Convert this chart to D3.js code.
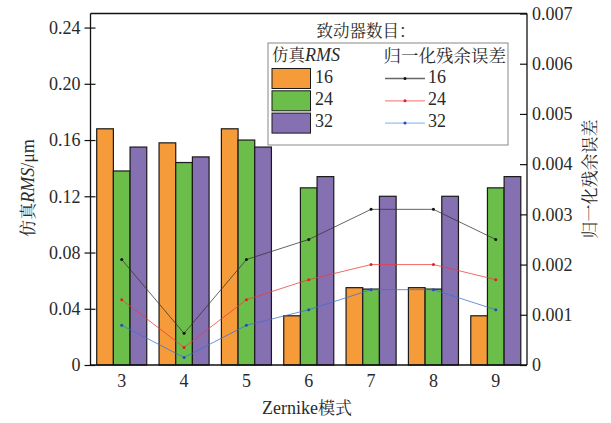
<!DOCTYPE html>
<html>
<head>
<meta charset="utf-8">
<script src="https://cdn.jsdelivr.net/npm/d3@7"></script>
<style>
  html, body { margin: 0; padding: 0; background: #fff; }
  svg { display: block; }
</style>
</head>
<body>
<svg id="chart" width="611" height="423"></svg>
<script>
// Zernike modes on the x axis
const modes = ["3", "4", "5", "6", "7", "8", "9"];
// Actuator counts (one bar / one line per count)
const actuators = ["16", "24", "32"];

// Simulated RMS (µm), left axis
const rms16 = [0.168, 0.158, 0.168, 0.035, 0.055, 0.055, 0.035];
const rms24 = [0.138, 0.144, 0.160, 0.126, 0.054, 0.054, 0.126];
const rms32 = [0.155, 0.148, 0.155, 0.134, 0.120, 0.120, 0.134];

// Normalised residual error, right axis
const res16 = [0.0021, 0.00063, 0.0021, 0.0025, 0.0031, 0.0031, 0.0025];
const res24 = [0.0013, 0.00035, 0.0013, 0.0017, 0.0020, 0.0020, 0.0017];
const res32 = [0.00079, 0.00015, 0.00079, 0.0011, 0.0015, 0.0015, 0.0011];

const leftTicks = [0, 0.04, 0.08, 0.12, 0.16, 0.20, 0.24];
const rightTicks = [0, 0.001, 0.002, 0.003, 0.004, 0.005, 0.006, 0.007];

const barColors = ["#F59B3A", "#6CBE4B", "#8570B1"];
const lineColors = ["#333333", "#EE3B3B", "#3F6FD6"];
const legendLineColors = ["#666666", "#F48C8C", "#8EC4F0"];
const dotColors = ["#111111", "#E02020", "#1F4FB0"];

const SERIF_FONT = "Liberation Serif";
const CJK_FONT = "Noto Serif CJK SC";
const TEXT_COLOR = "#2a2a2a";

const rmsSeries = [rms16, rms24, rms32];
const resSeries = [res16, res24, res32];

const L = 90.5, R = 527, T = 13.5, B = 365;
const svg = d3.select("#chart");

const x = d3.scaleBand().domain(modes).range([L, R]).paddingInner(12.3 / 62.3).paddingOuter(6.2 / 62.3);
const xs = d3.scaleBand().domain(actuators).range([0, x.bandwidth()]);
const yL = d3.scaleLinear().domain([0, 0.25]).range([B, T]);
const yR = d3.scaleLinear().domain([0, 0.007]).range([B, T]);

const setSerif = (sel, size) => sel.style("font-family", `'${SERIF_FONT}'`).style("font-size", size + "px");
const setCjk = (sel, size) => sel.style("font-family", `'${CJK_FONT}'`).style("font-size", size + "px");

// Bars
modes.forEach((m, i) => {
  actuators.forEach((a, j) => {
    const v = rmsSeries[j][i];
    svg.append("rect")
      .attr("x", x(m) + xs(a))
      .attr("y", yL(v))
      .attr("width", xs.bandwidth())
      .attr("height", yL(0) - yL(v))
      .attr("fill", barColors[j])
      .attr("stroke", "#1a1a1a")
      .attr("stroke-width", 1.2);
  });
});

// Residual error lines
const cx = m => x(m) + x.bandwidth() / 2;
resSeries.forEach((s, j) => {
  const line = d3.line().x((d, i) => cx(modes[i])).y(d => yR(d));
  svg.append("path").datum(s).attr("d", line)
    .attr("fill", "none").attr("stroke", lineColors[j]).attr("stroke-width", 0.9).attr("opacity", 0.85);
  svg.selectAll(null).data(s).enter().append("circle")
    .attr("cx", (d, i) => cx(modes[i])).attr("cy", d => yR(d)).attr("r", 1.5)
    .attr("fill", dotColors[j]);
});

// Frame
svg.append("line").attr("x1", L).attr("x2", R).attr("y1", T).attr("y2", T).attr("stroke", "#111").attr("stroke-width", 1.3);
svg.append("line").attr("x1", L).attr("x2", R).attr("y1", B).attr("y2", B).attr("stroke", "#111").attr("stroke-width", 1.3);

// Left axis
const axL = svg.append("g").attr("transform", `translate(${L},0)`)
  .call(d3.axisLeft(yL).tickValues(leftTicks).tickSize(6).tickPadding(4)
    .tickFormat(d => d === 0 ? "0" : d3.format(".2f")(d)));
axL.selectAll(".tick line").attr("x1", 5);
axL.select(".domain").attr("d", `M0,${T}V${B}`);

// Right axis (ticks inside)
const axR = svg.append("g").attr("transform", `translate(${R},0)`)
  .call(d3.axisRight(yR).tickValues(rightTicks).tickSize(0).tickPadding(5)
    .tickFormat(d => d === 0 ? "0" : d3.format(".3f")(d)));
axR.selectAll(".tick line").attr("x2", -7);
axR.select(".domain").attr("d", `M0,${T}V${B}`);

// Bottom axis labels
const axB = svg.append("g").attr("transform", `translate(0,${B})`)
  .call(d3.axisBottom(x).tickSize(0).tickPadding(9));
axB.select(".domain").remove();

[axL, axR, axB].forEach(g => {
  g.attr("font-family", SERIF_FONT).attr("font-size", 18);
  g.selectAll(".domain").attr("stroke", "#111").attr("stroke-width", 1.3);
  g.selectAll(".tick line").attr("stroke", "#111").attr("stroke-width", 1.2);
  g.selectAll("text").call(setSerif, 18).attr("fill", TEXT_COLOR);
});

// Axis titles
svg.append("text").attr("transform", "translate(30,188) rotate(-90)")
  .attr("text-anchor", "middle").attr("dominant-baseline", "middle").attr("fill", TEXT_COLOR)
  .call(t => {
    t.append("tspan").call(setCjk, 17).text("仿真");
    t.append("tspan").call(setSerif, 18).style("font-style", "italic").text("RMS");
    t.append("tspan").call(setSerif, 18).text("/μm");
  });

svg.append("text").attr("transform", "translate(592,179) rotate(-90)")
  .attr("text-anchor", "middle").attr("dominant-baseline", "middle").attr("fill", TEXT_COLOR)
  .call(setCjk, 17).text("归一化残余误差");

svg.append("text").attr("x", 307).attr("y", 410)
  .attr("text-anchor", "middle").attr("dominant-baseline", "middle").attr("fill", TEXT_COLOR)
  .call(t => {
    t.append("tspan").call(setSerif, 18).text("Zernike");
    t.append("tspan").call(setCjk, 17).text("模式");
  });

// Legend
const lg = svg.append("g");
lg.append("text").attr("x", 366).attr("y", 33).attr("text-anchor", "middle").attr("dominant-baseline", "middle")
  .call(setCjk, 16.5).attr("fill", TEXT_COLOR).text("致动器数目：");
lg.append("rect").attr("x", 268).attr("y", 43).attr("width", 240).attr("height", 102)
  .attr("fill", "#fff").attr("stroke", "#888").attr("stroke-width", 1);
lg.append("text").attr("x", 272).attr("y", 57).attr("dominant-baseline", "middle").attr("fill", TEXT_COLOR)
  .call(t => {
    t.append("tspan").call(setCjk, 16.5).text("仿真");
    t.append("tspan").call(setSerif, 18).style("font-style", "italic").text("RMS");
  });
lg.append("text").attr("x", 506).attr("y", 57).attr("text-anchor", "end").attr("dominant-baseline", "middle")
  .call(setCjk, 17.5).attr("fill", TEXT_COLOR).text("归一化残余误差");

actuators.forEach((a, j) => {
  const yy = 68.5 + j * 22.3;
  lg.append("rect").attr("x", 272).attr("y", yy).attr("width", 38.5).attr("height", 20)
    .attr("fill", barColors[j]).attr("stroke", "#1a1a1a").attr("stroke-width", 1);
  lg.append("text").attr("x", 315).attr("y", yy + 10).attr("dominant-baseline", "middle")
    .call(setSerif, 18).attr("fill", TEXT_COLOR).text(a);
  lg.append("line").attr("x1", 385).attr("x2", 425).attr("y1", yy + 10).attr("y2", yy + 10)
    .attr("stroke", legendLineColors[j]).attr("stroke-width", 1.3);
  lg.append("circle").attr("cx", 405).attr("cy", yy + 10).attr("r", 1.5).attr("fill", dotColors[j]);
  lg.append("text").attr("x", 428).attr("y", yy + 10).attr("dominant-baseline", "middle")
    .call(setSerif, 18).attr("fill", TEXT_COLOR).text(a);
});
</script>
</body>
</html>
